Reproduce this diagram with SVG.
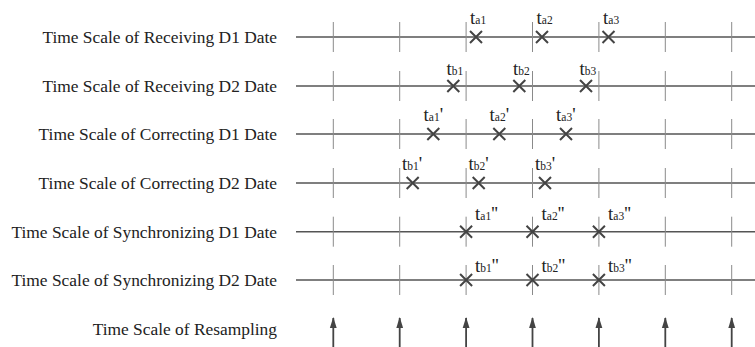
<svg xmlns="http://www.w3.org/2000/svg" width="755" height="347" viewBox="0 0 755 347">
  <style>
    .lbl { font-family: "Liberation Serif", "Times New Roman", serif; font-size: 17.4px; fill: #222; text-anchor: end; }
    .t { font-family: "Liberation Serif", "Times New Roman", serif; font-size: 19px; fill: #222; }
    .sub { font-size: 11.5px; }
    .axis { stroke: #555; stroke-width: 1.6; fill: none; }
    .tick { stroke: #8a8a8a; stroke-width: 1; fill: none; }
    .cross { stroke: #444; stroke-width: 2; fill: none; }
    .arrow { stroke: #444; stroke-width: 1.8; fill: none; marker-end: url(#head); }
  </style>
  <defs>
    <!-- arrowhead drawn along +x so orient="auto" points it along the line -->
    <marker id="head" viewBox="0 0 11 8" refX="10" refY="4" markerWidth="11" markerHeight="8" markerUnits="userSpaceOnUse" orient="auto">
      <path d="M11,4 L0,0.6 L0,7.4 Z" fill="#444"/>
    </marker>
    <g id="x"><path class="cross" d="M-6,-6 L6,6 M-6,6 L6,-6"/></g>
    <g id="ticks">
      <path class="tick" d="M333.3,-15V15 M399.7,-15V15 M466.1,-15V15 M532.5,-15V15 M598.9,-15V15 M665.3,-15V15 M731.7,-15V15"/>
    </g>
  </defs>

  <!-- row 1: receiving D1 -->
  <g id="row-recv-d1">
    <text class="lbl" x="277" y="43">Time Scale of Receiving D1 Date</text>
    <line class="axis" x1="296" y1="37" x2="755" y2="37"/>
    <use href="#ticks" y="37"/>
    <use href="#x" x="476" y="37"/>
    <use href="#x" x="542" y="37"/>
    <use href="#x" x="608.5" y="37"/>
    <text class="t" x="470" y="24">t<tspan class="sub">a1</tspan></text>
    <text class="t" x="536.5" y="24">t<tspan class="sub">a2</tspan></text>
    <text class="t" x="603" y="24">t<tspan class="sub">a3</tspan></text>
  </g>

  <!-- row 2: receiving D2 -->
  <g id="row-recv-d2">
    <text class="lbl" x="277" y="92">Time Scale of Receiving D2 Date</text>
    <line class="axis" x1="296" y1="86" x2="755" y2="86"/>
    <use href="#ticks" y="86"/>
    <use href="#x" x="453.3" y="86"/>
    <use href="#x" x="519.3" y="86"/>
    <use href="#x" x="586" y="86"/>
    <text class="t" x="446.5" y="75">t<tspan class="sub">b1</tspan></text>
    <text class="t" x="513" y="75">t<tspan class="sub">b2</tspan></text>
    <text class="t" x="579.5" y="75">t<tspan class="sub">b3</tspan></text>
  </g>

  <!-- row 3: correcting D1 -->
  <g id="row-corr-d1">
    <text class="lbl" x="277" y="140">Time Scale of Correcting D1 Date</text>
    <line class="axis" x1="296" y1="134" x2="755" y2="134"/>
    <use href="#ticks" y="134"/>
    <use href="#x" x="433.3" y="134"/>
    <use href="#x" x="499.3" y="134"/>
    <use href="#x" x="566" y="134"/>
    <text class="t" x="423.5" y="121">t<tspan class="sub">a1</tspan>'</text>
    <text class="t" x="489.5" y="121">t<tspan class="sub">a2</tspan>'</text>
    <text class="t" x="556" y="121">t<tspan class="sub">a3</tspan>'</text>
  </g>

  <!-- row 4: correcting D2 -->
  <g id="row-corr-d2">
    <text class="lbl" x="277" y="189">Time Scale of Correcting D2 Date</text>
    <line class="axis" x1="296" y1="183" x2="755" y2="183"/>
    <use href="#ticks" y="183"/>
    <use href="#x" x="412.7" y="183"/>
    <use href="#x" x="478.7" y="183"/>
    <use href="#x" x="545" y="183"/>
    <text class="t" x="402" y="170">t<tspan class="sub">b1</tspan>'</text>
    <text class="t" x="468.5" y="170">t<tspan class="sub">b2</tspan>'</text>
    <text class="t" x="535" y="170">t<tspan class="sub">b3</tspan>'</text>
  </g>

  <!-- row 5: synchronizing D1 -->
  <g id="row-sync-d1">
    <text class="lbl" x="277" y="237.5">Time Scale of Synchronizing D1 Date</text>
    <line class="axis" x1="296" y1="231.7" x2="755" y2="231.7"/>
    <use href="#ticks" y="231.7"/>
    <use href="#x" x="466.1" y="231.7"/>
    <use href="#x" x="532.5" y="231.7"/>
    <use href="#x" x="598.9" y="231.7"/>
    <text class="t" x="475" y="220">t<tspan class="sub">a1</tspan>''</text>
    <text class="t" x="541.5" y="220">t<tspan class="sub">a2</tspan>''</text>
    <text class="t" x="608" y="220">t<tspan class="sub">a3</tspan>''</text>
  </g>

  <!-- row 6: synchronizing D2 -->
  <g id="row-sync-d2">
    <text class="lbl" x="277" y="286">Time Scale of Synchronizing D2 Date</text>
    <line class="axis" x1="296" y1="280" x2="755" y2="280"/>
    <use href="#ticks" y="280"/>
    <use href="#x" x="466.1" y="280"/>
    <use href="#x" x="532.5" y="280"/>
    <use href="#x" x="598.9" y="280"/>
    <text class="t" x="475" y="272">t<tspan class="sub">b1</tspan>''</text>
    <text class="t" x="541.5" y="272">t<tspan class="sub">b2</tspan>''</text>
    <text class="t" x="608" y="272">t<tspan class="sub">b3</tspan>''</text>
  </g>

  <!-- resampling instants -->
  <g id="row-resample">
    <text class="lbl" x="277" y="335">Time Scale of Resampling</text>
  </g>
  <g id="connectors">
    <line class="arrow" x1="333.3" y1="347" x2="333.3" y2="318"/>
    <line class="arrow" x1="399.7" y1="347" x2="399.7" y2="318"/>
    <line class="arrow" x1="466.1" y1="347" x2="466.1" y2="318"/>
    <line class="arrow" x1="532.5" y1="347" x2="532.5" y2="318"/>
    <line class="arrow" x1="598.9" y1="347" x2="598.9" y2="318"/>
    <line class="arrow" x1="665.3" y1="347" x2="665.3" y2="318"/>
    <line class="arrow" x1="731.7" y1="347" x2="731.7" y2="318"/>
  </g>
</svg>
